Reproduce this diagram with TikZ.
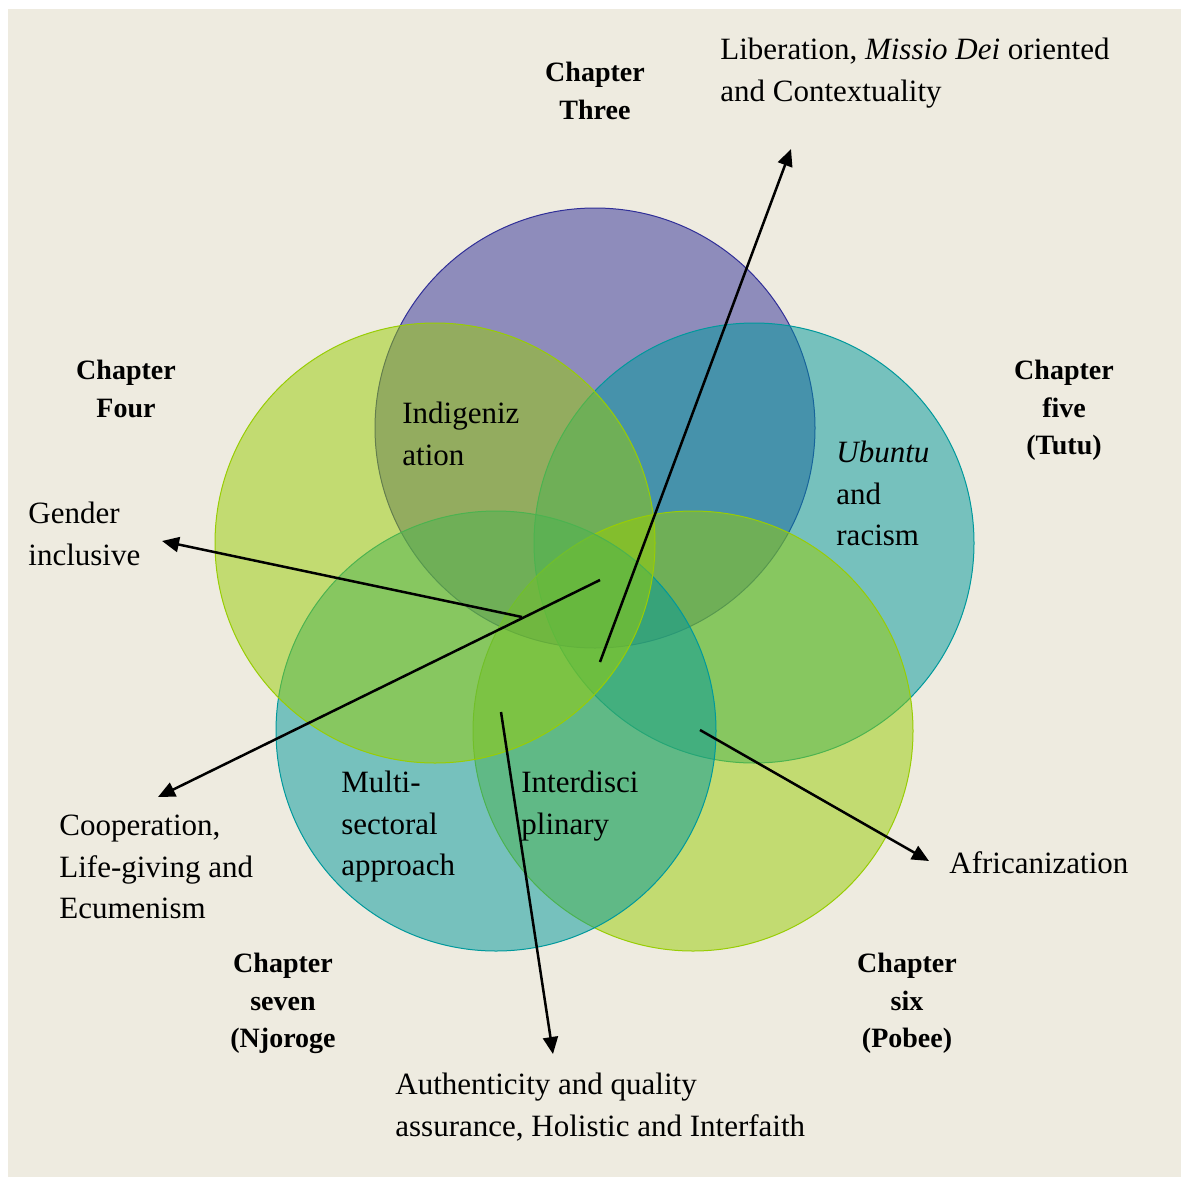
\documentclass[tikz,border=0pt]{standalone}
\usepackage{fontspec}
\setmainfont{Liberation Serif}
\usetikzlibrary{arrows.meta}
\definecolor{beige}{HTML}{EEEBE0}
\definecolor{violetc}{RGB}{48,47,152}
\definecolor{limec}{RGB}{152,205,4}
\definecolor{tealc}{RGB}{0,153,156}
\tikzset{
	ring/.style={draw=#1, fill=#1, fill opacity=0.5, line width=0.5pt},
	pointer/.style={line width=1.25pt, -{Triangle[length=8.5pt,width=7.5pt]}},
	idea/.style={anchor=north west, inner sep=0pt, align=left, font=\fontsize{15.5}{20.75}\selectfont},
	chap/.style={anchor=north, inner sep=0pt, align=center, font=\fontsize{14}{18.75}\selectfont\bfseries}
}

\begin{document}
\begin{tikzpicture}[x=0.5pt, y=-0.5pt]
			%%%%% START %%%%%
			\useasboundingbox (0, 0) rectangle (1181, 1177);
			\fill[white] (0, 0) rectangle (1181, 1177);
			\fill[beige] (8, 9) rectangle (1181, 1177);
			
			% five chapters
			\draw[ring=violetc] (595, 428) circle (220);
			\draw[ring=tealc] (754, 543) circle (220);
			\draw[ring=limec] (693, 731) circle (220);
			\draw[ring=tealc] (496, 731) circle (220);
			\draw[ring=limec] (435, 543) circle (220);
			
			\node[chap] (three) at (595, 62) {Chapter\\Three};
			\node[chap] (four) at (126, 360) {Chapter\\Four};
			\node[chap] (five) at (1064, 360) {Chapter\\five\\(Tutu)};
			\node[chap] (seven) at (283, 953) {Chapter\\seven\\(Njoroge};
			\node[chap] (six) at (907, 953) {Chapter\\six\\(Pobee)};
			
			\node[idea] (indig) at (402, 402) {Indigeniz\\ation};
			\node[idea] (ubuntu) at (836, 441) {\textit{Ubuntu}\\and\\racism};
			\node[idea] (multi) at (341, 771) {Multi-\\sectoral\\approach};
			\node[idea] (inter) at (521, 771) {Interdisci\\plinary};
			
			\node[idea] (liberation) at (720, 38) {Liberation, \textit{Missio Dei} oriented\\and Contextuality};
			\node[idea] (gender) at (28, 502) {Gender\\inclusive};
			\node[idea] (coop) at (59, 815) {Cooperation,\\Life-giving and\\Ecumenism};
			\node[idea] (african) at (949, 851) {Africanization};
			\node[idea] (auth) at (395, 1073) {Authenticity and quality\\assurance, Holistic and Interfaith};
			
			% arrows out of the middle
			\coordinate (libfrom) at (600, 662);
			\coordinate (libto) at (791, 149);
			\coordinate (genfrom) at (522, 617);
			\coordinate (gento) at (162, 541);
			\coordinate (coopfrom) at (600, 580);
			\coordinate (coopto) at (158, 797);
			\coordinate (authfrom) at (501, 712);
			\coordinate (authto) at (553, 1054);
			\coordinate (afrfrom) at (700, 730);
			\coordinate (afrto) at (929, 861);
			
			\draw[pointer] (libfrom) -- (libto);
			\draw[pointer] (genfrom) -- (gento);
			\draw[pointer] (coopfrom) -- (coopto);
			\draw[pointer] (authfrom) -- (authto);
			\draw[pointer] (afrfrom) -- (afrto);
			%%%%% END %%%%%
\end{tikzpicture}
\end{document}
